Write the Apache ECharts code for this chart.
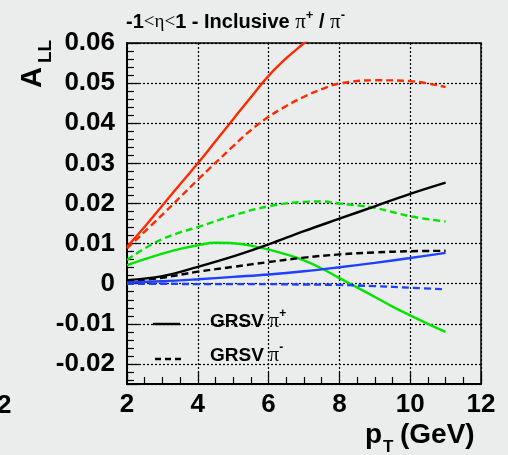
<!DOCTYPE html>
<html><head><meta charset="utf-8">
<script src="https://cdn.jsdelivr.net/npm/echarts@6/dist/echarts.min.js"></script>
<style>html,body{margin:0;padding:0;background:#eaedeb}#c{width:508px;height:455px}</style>
</head><body><div id="c"></div>
<script>
// pT grids (GeV)
const ptFine = [2,2.5,3,3.5,4,4.5,5,5.5,6,6.5,7,7.5,8,8.5,9,9.5,10,10.5,11];
const ptRedSolid = [2,2.5,3,3.5,4,4.5,5,5.5,6,6.5,7,7.5];
const ptGrid = [2,3,4,5,6,7,8,9,10,11];
const ptRedDash = [2,3,4,5,5.5,6,6.5,7,7.5,8,9,10,11];
const ptGreenDash = [2,2.5,3,3.5,4,5,6,7,7.5,8,9,10,11];

// A_LL values
const redSolid = [0.0092,0.0142,0.0195,0.0248,0.0300,0.0355,0.0410,0.0465,0.0518,0.0562,0.0600,0.0640];
const redDash = [0.0088,0.0172,0.0259,0.0343,0.0383,0.0416,0.0443,0.0466,0.0485,0.0499,0.0507,0.0505,0.0490];
const greenSolid = [0.0046,0.0061,0.0075,0.0087,0.0096,0.0102,0.0101,0.0095,0.0085,0.0073,0.0058,0.0038,0.0014,-0.0009,-0.0033,-0.0057,-0.0079,-0.0100,-0.0120];
const greenDash = [0.0059,0.0088,0.0111,0.0128,0.0141,0.0170,0.0193,0.0204,0.0205,0.0200,0.0189,0.0168,0.0155];
const blackSolid = [0.0009,0.0019,0.0042,0.0068,0.0098,0.0131,0.0162,0.0193,0.0224,0.0252];
const blackDash = [0.0005,0.0015,0.0030,0.0042,0.0054,0.0065,0.0073,0.0078,0.0081,0.0082];
const blueSolid = [0.0003,0.0006,0.0011,0.0017,0.0023,0.0031,0.0041,0.0052,0.0064,0.0077];
const blueDash = [0.0000,0.0000,-0.0001,-0.0001,-0.0001,-0.0002,-0.0003,-0.0006,-0.0010,-0.0014];

// axis settings
const xTicks = [2,4,6,8,10,12];
const yMin = -0.025, yMax = 0.06;

const pairs = (xs, ys) => xs.map((x, i) => [x, ys[i]]);
const FONT = '"Liberation Sans", Arial, Helvetica, sans-serif';
const SERIF = '"Liberation Serif", "Times New Roman", serif';

const RED = '#ff2a00', GREEN = '#00e400', BLUE = '#1e40ff', BLACK = '#000';
const DASH = [7, 4];
const GRIDLINE = { show: true, lineStyle: { color: '#000', width: 1.2, type: [2, 2] } };

function mk(name, data, color, dashed) {
  return {
    name, type: 'line', data, smooth: 0.4, symbol: 'none', clip: true,
    lineStyle: { color, width: 2.4, type: dashed ? DASH : 'solid' },
    z: 3
  };
}

const chart = echarts.init(document.getElementById('c'), null, { renderer: 'canvas' });
chart.setOption({
  backgroundColor: '#eaedeb',
  animation: false,
  grid: { left: 127, top: 43, right: 27, bottom: 71, show: true, borderColor: '#000', borderWidth: 1.5, backgroundColor: 'transparent' },
  xAxis: {
    type: 'value', min: xTicks[0], max: xTicks[xTicks.length - 1], interval: 2,
    axisLine: { show: true, onZero: false, lineStyle: { color: '#000', width: 2 } },
    axisTick: { show: true, inside: true, length: 12, lineStyle: { color: '#000', width: 1.2 } },
    minorTick: { show: true, splitNumber: 4, length: 7, lineStyle: { color: '#000', width: 1.2 } },
    splitLine: GRIDLINE,
    axisLabel: { color: '#000', fontFamily: FONT, fontWeight: 'bold', fontSize: 26, margin: 8 }
  },
  yAxis: {
    type: 'value', min: yMin, max: yMax, splitNumber: 8,
    axisLine: { show: true, onZero: false, lineStyle: { color: '#000', width: 2 } },
    axisTick: { show: true, inside: true, length: 12, lineStyle: { color: '#000', width: 1.2 } },
    minorTick: { show: true, splitNumber: 5, length: 7, lineStyle: { color: '#000', width: 1.2 } },
    splitLine: GRIDLINE,
    axisLabel: {
      color: '#000', fontFamily: FONT, fontWeight: 'bold', fontSize: 26, margin: 12,
      formatter: v => {
        if (Math.abs(v - yMin) < 1e-9) return '';
        if (Math.abs(v) < 1e-9) return '0';
        return v.toFixed(2);
      }
    }
  },
  series: [
    mk('red solid', pairs(ptRedSolid, redSolid), RED, false),
    mk('red dashed', pairs(ptRedDash, redDash), RED, true),
    mk('green dashed', pairs(ptGreenDash, greenDash), GREEN, true),
    mk('green solid', pairs(ptFine, greenSolid), GREEN, false),
    mk('black solid', pairs(ptGrid, blackSolid), BLACK, false),
    mk('black dashed', pairs(ptGrid, blackDash), BLACK, true),
    mk('blue solid', pairs(ptGrid, blueSolid), BLUE, false),
    mk('blue dashed', pairs(ptGrid, blueDash), BLUE, true)
  ],
  graphic: [
    { type: 'text', x: 126, y: 22, z: 10, style: {
      text: '{b|-1}{s|<η<}{b|1 - Inclusive }{p|π}{sup|+}{b| / }{p|π}{sup|-}',
      verticalAlign: 'middle', align: 'left',
      rich: {
        b: { fontFamily: FONT, fontWeight: 'bold', fontSize: 20, lineHeight: 26, fill: '#000' },
        s: { fontFamily: SERIF, fontSize: 19, lineHeight: 26, fill: '#000' },
        p: { fontFamily: SERIF, fontSize: 21, lineHeight: 26, fill: '#000' },
        sup: { fontFamily: FONT, fontWeight: 'bold', fontSize: 13, lineHeight: 13, verticalAlign: 'top', fill: '#000' }
      } } },
    { type: 'text', x: 33, y: 88, rotation: Math.PI / 2, z: 10, style: {
      text: 'A', font: 'bold 29px ' + FONT, fill: '#000', align: 'left', verticalAlign: 'middle' } },
    { type: 'text', x: 45.5, y: 63, rotation: Math.PI / 2, z: 10, style: {
      text: 'LL', font: 'bold 19px ' + FONT, fill: '#000', align: 'left', verticalAlign: 'middle' } },
    { type: 'text', x: 365, y: 435, z: 10, style: {
      text: 'p', font: 'bold 28px ' + FONT, fill: '#000', align: 'left', verticalAlign: 'middle' } },
    { type: 'text', x: 383, y: 447, z: 10, style: {
      text: 'T', font: 'bold 17px ' + FONT, fill: '#000', align: 'left', verticalAlign: 'middle' } },
    { type: 'text', x: 400, y: 435, z: 10, style: {
      text: '(GeV)', font: 'bold 28px ' + FONT, fill: '#000', align: 'left', verticalAlign: 'middle' } },
    { type: 'text', x: -3, y: 406, z: 10, style: {
      text: '2', font: 'bold 26px ' + FONT, fill: '#000', align: 'left', verticalAlign: 'middle' } },
    { type: 'line', z: 10, shape: { x1: 153, y1: 324, x2: 180, y2: 324 }, style: { stroke: '#000', lineWidth: 2.4 } },
    { type: 'line', z: 10, shape: { x1: 155, y1: 359, x2: 182, y2: 359 }, style: { stroke: '#000', lineWidth: 2.4, lineDash: [6, 4] } },
    { type: 'text', x: 210, y: 322, z: 10, style: {
      text: '{b|GRSV }{p|π}{sup|+}', verticalAlign: 'middle', align: 'left',
      rich: {
        b: { fontFamily: FONT, fontWeight: 'bold', fontSize: 19, lineHeight: 28, fill: '#000' },
        p: { fontFamily: SERIF, fontSize: 20, lineHeight: 28, fill: '#000' },
        sup: { fontFamily: FONT, fontWeight: 'bold', fontSize: 12, lineHeight: 12, verticalAlign: 'top', fill: '#000' }
      } } },
    { type: 'text', x: 210, y: 356, z: 10, style: {
      text: '{b|GRSV }{p|π}{sup|-}', verticalAlign: 'middle', align: 'left',
      rich: {
        b: { fontFamily: FONT, fontWeight: 'bold', fontSize: 19, lineHeight: 28, fill: '#000' },
        p: { fontFamily: SERIF, fontSize: 20, lineHeight: 28, fill: '#000' },
        sup: { fontFamily: FONT, fontWeight: 'bold', fontSize: 12, lineHeight: 12, verticalAlign: 'top', fill: '#000' }
      } } }
  ]
});
</script></body></html>
